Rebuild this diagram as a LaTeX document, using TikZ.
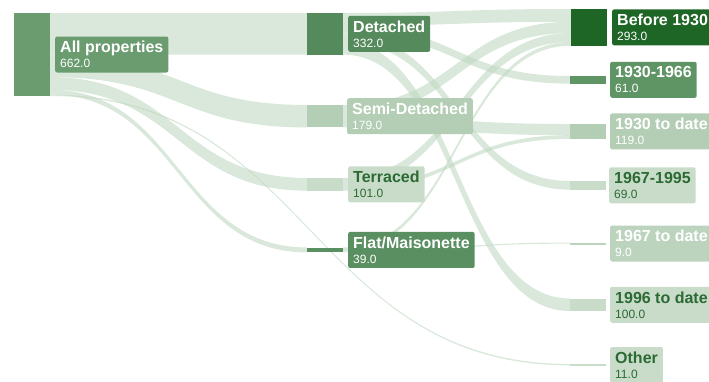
\documentclass[tikz,border=0pt]{standalone}
\usepackage{fontspec}
\setmainfont{Liberation Sans}
\usetikzlibrary{positioning,calc,backgrounds}
\definecolor{allgreen}{HTML}{6A9C70}
\definecolor{detgreen}{HTML}{558A5C}
\definecolor{semigreen}{HTML}{B3CEB5}
\definecolor{terrgreen}{HTML}{C8DCC9}
\definecolor{flatgreen}{HTML}{5A8F61}
\definecolor{oldgreen}{HTML}{1E6626}
\definecolor{midgreen}{HTML}{5F9465}
\definecolor{palegreen}{HTML}{BCD4BE}
\definecolor{textgreen}{HTML}{2C6A34}
\definecolor{flowgreen}{HTML}{BFD8C1}
\newcommand{\kk}{0.12538}
\newcommand{\labtitle}[1]{{\fontsize{16}{18}\selectfont\bfseries #1}}
% band from #1 (offset #2) to #3 (offset #4), value #5
\newcommand{\flowband}[5]{%
  \path (#1.north east) ++(0,{#2*\kk}) coordinate (fs1) ++(0,{#5*\kk}) coordinate (fs2);
  \path (#3.north west) ++(0,{#4*\kk}) coordinate (ft1) ++(0,{#5*\kk}) coordinate (ft2);
  \path ($(fs1)!.5!(ft1)$) coordinate (fm);
  \fill[flowfill] (fs1) .. controls (fm |- fs1) and (fm |- ft1) .. (ft1) -- (ft2)
    .. controls (fm |- ft2) and (fm |- fs2) .. (fs2) -- cycle;}
\begin{document}
\begin{tikzpicture}[x=1pt,y=-1pt,
    bar/.style={anchor=north west, minimum width=36pt, inner sep=0pt, outer sep=0pt},
    lab/.style={rounded corners=2pt, align=left, inner xsep=5pt, inner ysep=2pt,
      minimum height=36pt, text=white, font=\fontsize{12}{14}\selectfont},
    darklab/.style={lab, text=textgreen},
    flowfill/.style={fill=flowgreen, fill opacity=0.6}]
  \useasboundingbox (0,0) rectangle (709,381);
  \clip (0,0) rectangle (709,381);
  % bars
  \node[bar, fill=allgreen, minimum height={662*\kk}] (allp) at (14,13) {};
  \node[bar, fill=detgreen, minimum height={332*\kk}] (det) at (307,13) {};
  \node[bar, fill=semigreen, minimum height={179*\kk}] (semi) at (307,105) {};
  \node[bar, fill=terrgreen, minimum height={101*\kk}] (terr) at (307,178) {};
  \node[bar, fill=flatgreen, minimum height={39*\kk}] (flat) at (307,247.5) {};
  \node[bar, fill=oldgreen, minimum height={293*\kk}] (b1930) at (571,9) {};
  \node[bar, fill=midgreen, minimum height={61*\kk}] (p3066) at (570,76) {};
  \node[bar, fill=semigreen, minimum height={119*\kk}] (p30d) at (570,124) {};
  \node[bar, fill=terrgreen, minimum height={69*\kk}] (p6795) at (570,181) {};
  \node[bar, fill=palegreen, minimum height=2pt] (p67d) at (570,242.5) {};
  \node[bar, fill=terrgreen, minimum height={100*\kk}] (p96d) at (570,298.5) {};
  \node[bar, fill=terrgreen, minimum height=2pt] (oth) at (570,364) {};
  % flows
  \begin{pgfonlayer}{background}
    \flowband{allp}{0}{det}{0}{332}
    \flowband{allp}{332}{semi}{0}{179}
    \flowband{allp}{511}{terr}{0}{101}
    \flowband{allp}{612}{flat}{0}{39}
    \flowband{allp}{651}{oth}{0}{11}
    \flowband{det}{0}{b1930}{0}{102}
    \flowband{det}{102}{p3066}{0}{61}
    \flowband{det}{163}{p6795}{0}{69}
    \flowband{det}{232}{p96d}{0}{100}
    \flowband{semi}{0}{b1930}{102}{90}
    \flowband{semi}{90}{p30d}{0}{89}
    \flowband{terr}{0}{b1930}{192}{71}
    \flowband{terr}{71}{p30d}{89}{30}
    \flowband{flat}{0}{b1930}{263}{30}
    \flowband{flat}{30}{p67d}{0}{9}
  \end{pgfonlayer}
  % labels
  \node[lab, fill=allgreen, right=5pt of allp] (allpl) {\labtitle{All properties}\\[1pt]662.0};
  \node[lab, fill=detgreen, right=5pt of det] (detl) {\labtitle{Detached}\\[1pt]332.0};
  \node[lab, fill=semigreen, right=4pt of semi] (semil) {\labtitle{Semi-Detached}\\[1pt]179.0};
  \node[darklab, fill=terrgreen, right=5pt of terr] (terrl) {\labtitle{Terraced}\\[1pt]101.0};
  \node[lab, fill=flatgreen, right=5pt of flat] (flatl) {\labtitle{Flat/Maisonette}\\[1pt]39.0};
  \node[lab, fill=oldgreen, right=5pt of b1930] (b1930l) {\labtitle{Before 1930}\\[1pt]293.0};
  \node[lab, fill=midgreen, right=4pt of p3066] (p3066l) {\labtitle{1930-1966}\\[1pt]61.0};
  \node[lab, fill=semigreen, right=4pt of p30d] (p30dl) {\labtitle{1930 to date}\\[1pt]119.0};
  \node[darklab, fill=terrgreen, right=3pt of p6795] (p6795l) {\labtitle{1967-1995}\\[1pt]69.0};
  \node[lab, fill=palegreen, right=4pt of p67d] (p67dl) {\labtitle{1967 to date}\\[1pt]9.0};
  \node[darklab, fill=terrgreen, right=4pt of p96d] (p96dl) {\labtitle{1996 to date}\\[1pt]100.0};
  \node[darklab, fill=terrgreen, right=4pt of oth] (othl) {\labtitle{Other}\\[1pt]11.0};
\end{tikzpicture}
\end{document}
